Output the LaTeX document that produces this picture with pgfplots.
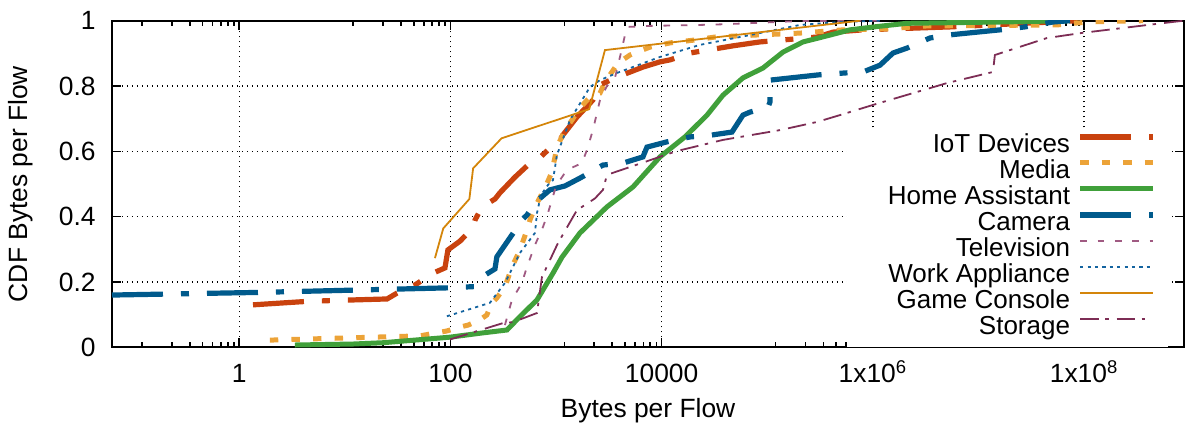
\documentclass[border=0pt]{standalone}
\usepackage{fontspec}
\setmainfont{Liberation Sans}
\usepackage{pgfplots}
\pgfplotsset{compat=1.18}
\definecolor{ciot}{RGB}{201,66,14}
\definecolor{cmedia}{RGB}{236,163,56}
\definecolor{chome}{RGB}{64,160,58}
\definecolor{ccam}{RGB}{0,90,140}
\definecolor{ctv}{RGB}{160,90,130}
\definecolor{cwork}{RGB}{20,100,160}
\definecolor{cgame}{RGB}{212,133,10}
\definecolor{cstor}{RGB}{125,45,85}
\begin{document}
\begin{tikzpicture}[font=\fontsize{13.2}{16}\selectfont]
\begin{axis}[
 scale only axis, width=536pt, height=163.3pt,
 xmode=log, xmin=0.0624, xmax=8.83e8, ymin=0, ymax=1,
 xtick={1,100,10000,1e6,1e8},
 xticklabels={1,100,10000,1x10\textsuperscript{6},1x10\textsuperscript{8}},
 minor xtick={0.12,0.23,0.34,0.45,0.56,0.67,0.78,0.89,12,23,34,45,56,67,78,89,1200,2300,3400,4500,5600,6700,7800,8900,1.2e5,2.3e5,3.4e5,4.5e5,5.6e5,6.7e5,7.8e5,8.9e5,1.2e7,2.3e7,3.4e7,4.5e7,5.6e7,6.7e7,7.8e7,8.9e7},
 ytick={0,0.2,0.4,0.6,0.8,1},
 yticklabels={0,0.2,0.4,0.6,0.8,1},
 xmajorgrids, ymajorgrids,
 major grid style={black, line width=0.7pt, dash pattern=on 0.7pt off 1.8pt},
 axis line style={line width=1pt},
 every tick/.style={black, line width=0.8pt},
 major tick length=4.5pt, minor tick length=2.8pt,
 xticklabel style={anchor=base, yshift=-17.4pt, inner sep=0pt},
 yticklabel style={anchor=east, xshift=-8pt, inner sep=0pt},
 xlabel={Bytes per Flow}, ylabel={CDF Bytes per Flow},
 x label style={at={(axis description cs:0.5,-0.1953)}, anchor=center},
 y label style={at={(axis description cs:-0.0849,0.5)}, anchor=center},
 legend plot pos=right, legend cell align=right,
 legend style={draw=none, fill=none, font=\fontsize{13}{16}\selectfont, at={(rel axis cs:0.974,0.657)}, anchor=north east, inner sep=0pt, row sep=0pt, column sep=3.75pt, nodes={inner sep=0pt, text height=9.5pt, text depth=3.5pt}},
 legend image code/.code={\draw[#1, line cap=butt] (0pt,4.6pt) -- (36.5pt,4.6pt);},
]
\fill[white] (rel axis cs:0.6856,0) rectangle (rel axis cs:0.985,0.671);

\addplot[ciot, line width=2.6pt, dash pattern=on 25.5pt off 9pt on 4pt off 9pt] coordinates {
(1.35,0.130)(4.10,0.140)(7.23,0.143)(25.1,0.148)(31.2,0.166)(46.2,0.191)(68.3,0.227)(88.7,0.243)(94.6,0.298)(123,0.325)(163,0.365)(171,0.390)(199,0.430)(264,0.454)(294,0.473)(408,0.521)(542,0.558)(631,0.567)(838,0.604)(1089,0.635)(1161,0.650)(1577,0.705)(2233,0.757)(2605,0.803)(3613,0.825)(6650,0.858)(9640,0.874)(12000,0.880)(18500,0.901)(47300,0.923)(85300,0.935)(296000,0.950)(420000,0.965)(807000,0.972)(5.37e6,0.981)(7.69e7,0.999)(1.02e8,1.0)};
\addlegendentry{IoT Devices}

\addplot[cmedia, line width=2.5pt, dash pattern=on 4.2pt off 6.6pt] coordinates {
(1.95,0.022)(11.2,0.029)(51.4,0.035)(92.5,0.050)(123,0.062)(147,0.068)(190,0.084)(221,0.099)(247,0.136)(275,0.151)(328,0.185)(382,0.246)(455,0.298)(530,0.359)(566,0.390)(646,0.436)(786,0.488)(914,0.537)(1020,0.613)(1215,0.665)(1416,0.696)(1683,0.733)(2094,0.766)(2605,0.778)(2904,0.812)(3383,0.843)(3855,0.870)(5012,0.895)(5840,0.904)(7745,0.919)(12000,0.932)(20700,0.941)(32000,0.950)(76400,0.956)(204000,0.962)(521000,0.972)(1.36e6,0.975)(3.26e6,0.984)(5.54e7,0.987)(8.57e7,0.993)(1.32e8,0.997)(3.62e8,1.0)};
\addlegendentry{Media}

\addplot[chome, line width=2.5pt] coordinates {
(3.37,0.007)(11.9,0.010)(23.0,0.014)(98.9,0.031)(190,0.043)(343,0.053)(455,0.094)(660,0.145)(935,0.227)(1138,0.276)(1683,0.350)(3035,0.430)(5350,0.491)(9640,0.583)(16600,0.644)(26900,0.711)(38100,0.772)(58900,0.825)(91000,0.855)(141000,0.904)(218000,0.935)(393000,0.956)(607000,0.972)(1.09e6,0.982)(2.10e6,0.992)(1.60e7,0.996)(7.35e7,1.0)};
\addlegendentry{Home Assistant}

\addplot[ccam, line width=2.6pt, dash pattern=on 25.5pt off 9pt on 4pt off 9pt] coordinates {
(0.0624,0.160)(1.50,0.168)(11.9,0.175)(94.6,0.182)(171,0.186)(212,0.221)(264,0.240)(275,0.277)(328,0.313)(382,0.344)(475,0.390)(530,0.405)(675,0.451)(875,0.482)(1215,0.494)(1683,0.518)(2494,0.549)(2780,0.558)(4300,0.564)(6650,0.583)(7260,0.613)(11200,0.629)(18500,0.644)(29900,0.650)(46300,0.659)(58900,0.711)(68500,0.720)(102000,0.736)(106000,0.751)(106000,0.818)(303000,0.834)(544000,0.840)(807000,0.843)(1.17e6,0.864)(1.55e6,0.901)(2.10e6,0.916)(3.47e6,0.947)(5.14e6,0.956)(1.60e7,0.972)(2.75e7,0.981)(5.07e7,0.996)(7.35e7,1.0)};
\addlegendentry{Camera}

\addplot[ctv, line width=0.9pt, dash pattern=on 3.3pt off 5.4pt] coordinates {
(328,0.068)(382,0.145)(475,0.197)(530,0.246)(631,0.313)(751,0.368)(838,0.411)(975,0.482)(1089,0.512)(1268,0.543)(1758,0.564)(1960,0.604)(2233,0.665)(2605,0.757)(3035,0.800)(3613,0.825)(4030,0.889)(4495,0.956)(4800,0.981)(7745,0.984)(23070,0.987)(38100,0.989)(204000,0.999)(1.17e6,1.0)};
\addlegendentry{Television}

\addplot[cwork, line width=0.9pt, dash pattern=on 1.6pt off 2.1pt] coordinates {
(92.5,0.095)(236,0.136)(328,0.197)(455,0.289)(631,0.350)(660,0.411)(719,0.466)(838,0.497)(935,0.512)(1020,0.589)(1355,0.696)(2094,0.797)(2605,0.818)(3780,0.840)(9640,0.889)(23070,0.926)(68500,0.956)(204000,0.987)(488000,0.996)(1.17e6,1.0)};
\addlegendentry{Work Appliance}

\addplot[cgame, line width=0.9pt] coordinates {
(71.3,0.273)(85.5,0.364)(151,0.454)(164,0.548)(305,0.640)(2060,0.729)(2904,0.910)(7.55e5,1.0)};
\addlegendentry{Game Console}

\addplot[cstor, line width=0.9pt, dash pattern=on 9.2pt off 3.3pt on 1.7pt off 4.1pt] coordinates {
(98.9,0.024)(314,0.074)(391,0.077)(660,0.105)(735,0.215)(1042,0.319)(1577,0.420)(2339,0.456)(2780,0.482)(3035,0.528)(13960,0.601)(38100,0.635)(132000,0.665)(296000,0.690)(488000,0.711)(1.00e6,0.742)(5.03e6,0.809)(1.37e7,0.843)(1.43e7,0.895)(4.46e7,0.947)(9.78e7,0.963)(7.27e8,0.997)(8.83e8,1.0)};
\addlegendentry{Storage}
\end{axis}
\pgfresetboundingbox
\path[use as bounding box] ([xshift=-56pt,yshift=-40.35pt]current axis.south west) rectangle ([xshift=5.5pt,yshift=10.35pt]current axis.north east);
\end{tikzpicture}
\end{document}
